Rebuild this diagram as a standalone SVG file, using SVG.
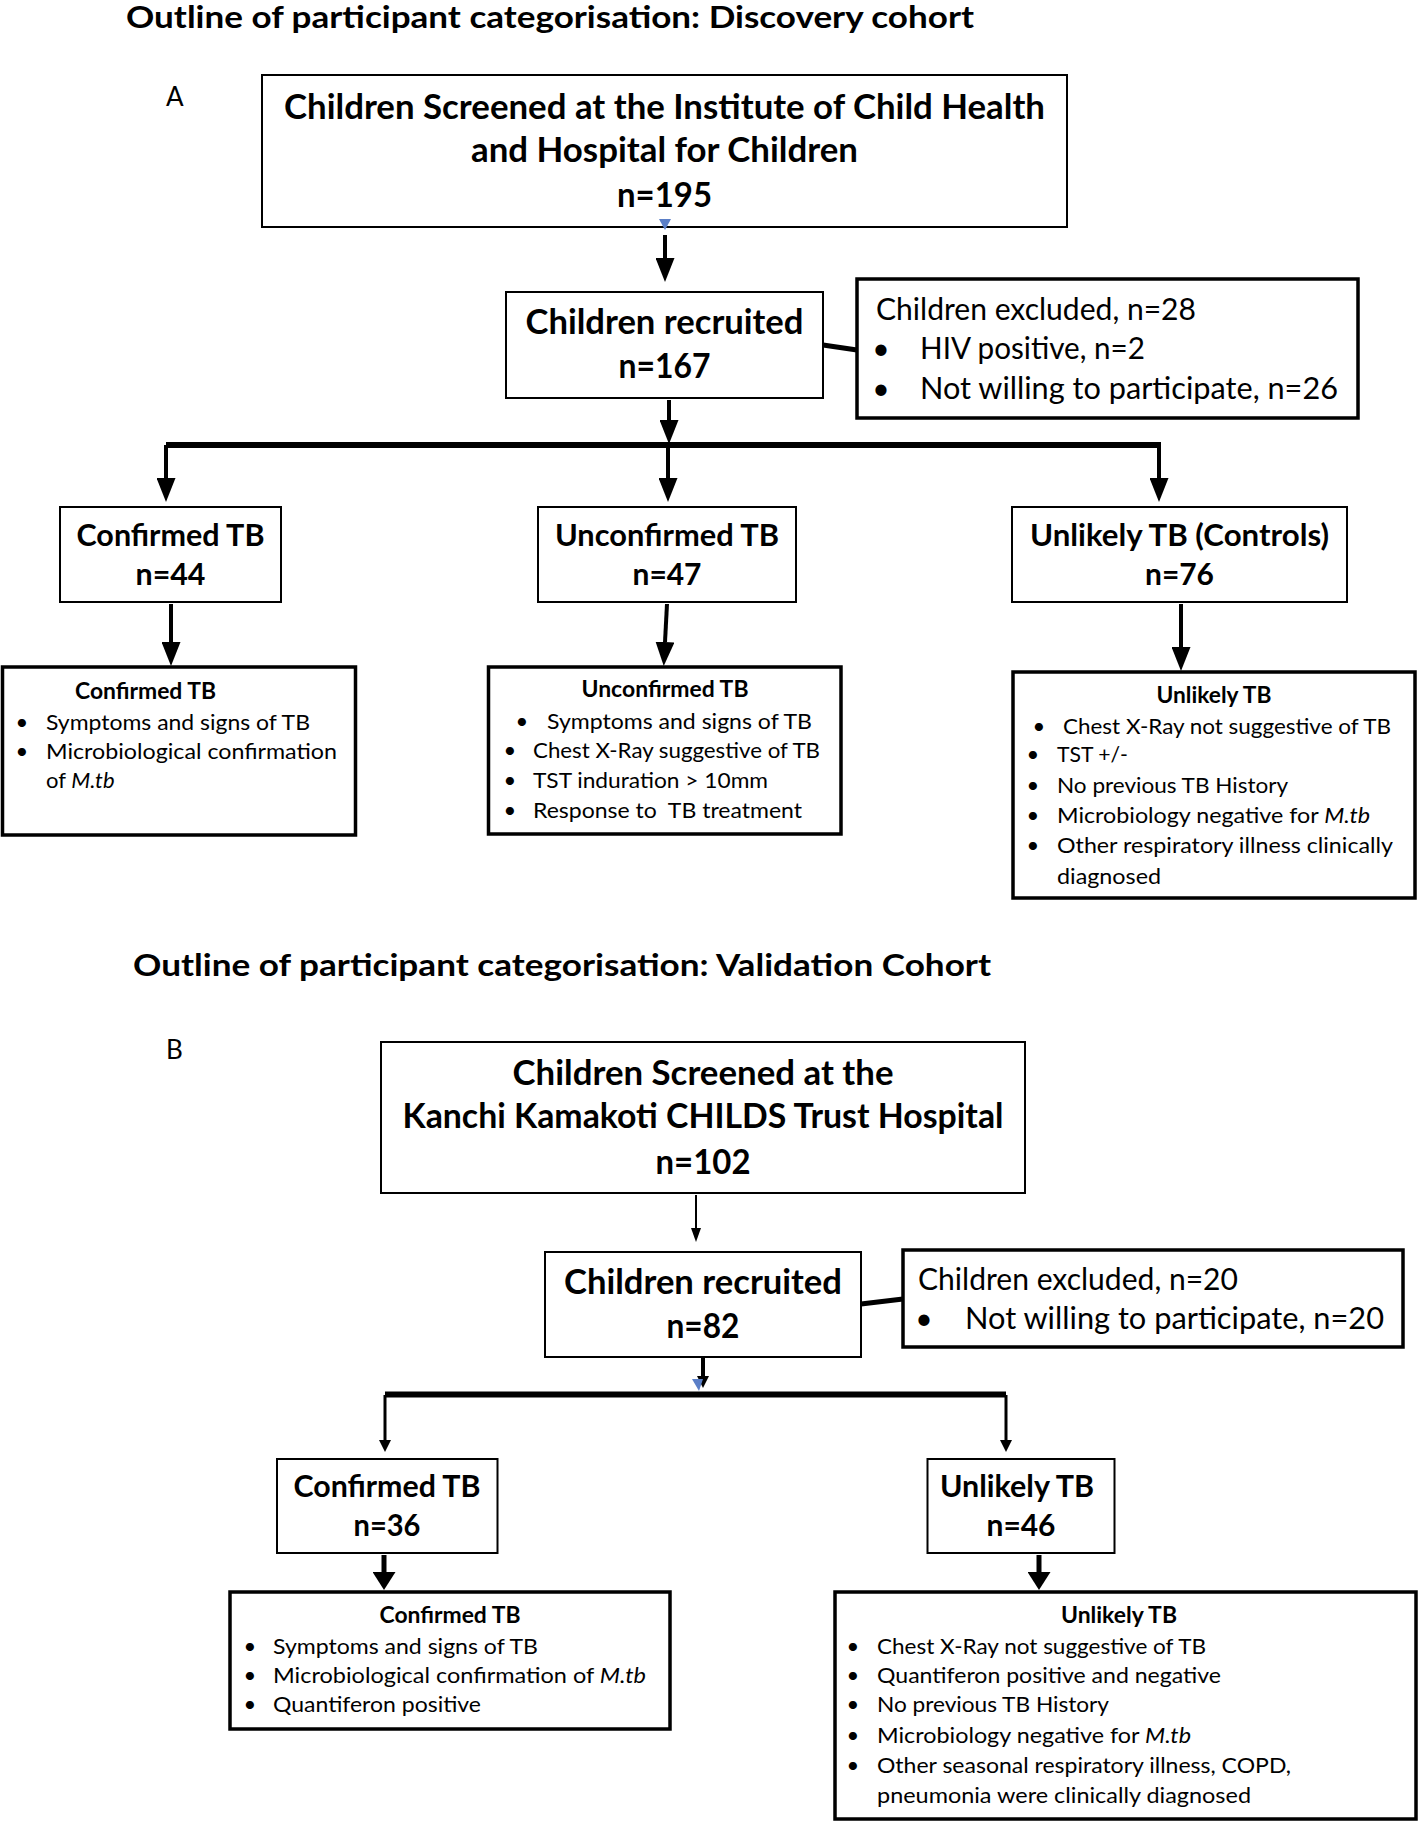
<svg xmlns="http://www.w3.org/2000/svg" width="1418" height="1823" viewBox="0 0 1418 1823">
<style>
text{font-family:Lato,"Liberation Sans",sans-serif;fill:#000}
.ttl{font-size:30px;font-weight:bold}
.lbl{font-size:26px}
.h{font-size:34px;font-weight:bold;text-anchor:middle}
.r{font-size:31px;font-weight:bold;text-anchor:middle}
.e{font-size:30px}
.dt{font-size:22px;font-weight:bold;text-anchor:middle}
.d{font-size:22px}
.b{text-anchor:middle}
.box{fill:#fff;stroke:#000;stroke-width:2}
.boxt{fill:#fff;stroke:#000;stroke-width:3.5}
.c{fill:none;stroke:#000;stroke-width:4}
.bar{fill:none;stroke:#000;stroke-width:6}
.blue{fill:#5b7fc7}
</style>
<defs>
<marker id="mA" markerUnits="userSpaceOnUse" markerWidth="24" markerHeight="19" refX="0" refY="9.5" orient="auto"><path d="M0,0 L24,9.5 L0,19 z" fill="#000"/></marker>
<marker id="mB" markerUnits="userSpaceOnUse" markerWidth="12" markerHeight="12" refX="0" refY="6" orient="auto"><path d="M0,0 L12,6 L0,12 z" fill="#000"/></marker>
<marker id="mC" markerUnits="userSpaceOnUse" markerWidth="18" markerHeight="23" refX="0" refY="11.5" orient="auto"><path d="M0,0 L18,11.5 L0,23 z" fill="#000"/></marker>
<marker id="mT" markerUnits="userSpaceOnUse" markerWidth="14" markerHeight="10" refX="0" refY="5" orient="auto"><path d="M0,0 L14,5 L0,10 z" fill="#000"/></marker>
</defs>
<rect width="1418" height="1823" fill="#fff"/>

<text class="ttl" x="126" y="28" textLength="848" lengthAdjust="spacingAndGlyphs">Outline of participant categorisation: Discovery cohort</text>
<text class="lbl" x="166" y="106">A</text>
<text class="ttl" x="133" y="976" textLength="858" lengthAdjust="spacingAndGlyphs">Outline of participant categorisation: Validation Cohort</text>
<text class="lbl" x="166" y="1059">B</text>

<g id="connectors">
<path class="c" d="M665,235 V258" marker-end="url(#mA)"/>
<path class="c" d="M669,400 V420" marker-end="url(#mA)"/>
<path class="bar" d="M166,445 H1161"/>
<path class="c" d="M166,445 V478" marker-end="url(#mA)"/>
<path class="c" d="M668,445 V478" marker-end="url(#mA)"/>
<path class="c" d="M1159,445 V478" marker-end="url(#mA)"/>
<path class="c" d="M171,604 V642" marker-end="url(#mA)"/>
<path class="c" d="M667,604 L665,642" marker-end="url(#mA)"/>
<path class="c" d="M1181,604 V647" marker-end="url(#mA)"/>
<path fill="none" stroke="#000" stroke-width="5" d="M823,345 L857,350"/>
<path fill="none" stroke="#000" stroke-width="2" d="M696,1195 V1228" marker-end="url(#mT)"/>
<path class="c" d="M703,1358 V1376" marker-end="url(#mB)"/>
<path class="bar" d="M385,1394.5 H1006"/>
<path fill="none" stroke="#000" stroke-width="3" d="M385,1395 V1440" marker-end="url(#mB)"/>
<path fill="none" stroke="#000" stroke-width="3" d="M1006,1395 V1440" marker-end="url(#mB)"/>
<path fill="none" stroke="#000" stroke-width="5" d="M384,1555 V1572" marker-end="url(#mC)"/>
<path fill="none" stroke="#000" stroke-width="5" d="M1039,1555 V1572" marker-end="url(#mC)"/>
<path fill="none" stroke="#000" stroke-width="5" d="M861,1304 L903,1299"/>
</g>

<g id="screenA">
<rect class="box" x="262" y="75" width="805" height="152"/>
<text class="h" x="664.5" y="119" textLength="761" lengthAdjust="spacingAndGlyphs">Children Screened at the Institute of Child Health</text>
<text class="h" x="664.5" y="162" textLength="387" lengthAdjust="spacingAndGlyphs">and Hospital for Children</text>
<text class="h" x="664.5" y="207" textLength="95" lengthAdjust="spacingAndGlyphs">n=195</text>
<polygon class="blue" points="659,219 671,219 665,230"/>
</g>

<g id="recruitedA">
<rect class="box" x="506" y="292" width="317" height="106"/>
<text class="h" x="664.5" y="334" textLength="278" lengthAdjust="spacingAndGlyphs">Children recruited</text>
<text class="h" x="664.5" y="378" textLength="92" lengthAdjust="spacingAndGlyphs">n=167</text>
</g>

<g id="excludedA">
<rect class="boxt" x="857" y="279" width="501" height="139"/>
<text class="e" x="876" y="320" textLength="320" lengthAdjust="spacingAndGlyphs">Children excluded, n=28</text>
<text class="e b" x="881" y="359">•</text>
<text class="e" x="920" y="359" textLength="225" lengthAdjust="spacingAndGlyphs">HIV positive, n=2</text>
<text class="e b" x="881" y="399">•</text>
<text class="e" x="920" y="399" textLength="418" lengthAdjust="spacingAndGlyphs">Not willing to participate, n=26</text>
</g>

<g id="confirmedA">
<rect class="box" x="60" y="507" width="221" height="95"/>
<text class="r" x="170.5" y="546" textLength="188" lengthAdjust="spacingAndGlyphs">Confirmed TB</text>
<text class="r" x="170.5" y="585" textLength="70" lengthAdjust="spacingAndGlyphs">n=44</text>
</g>

<g id="unconfirmedA">
<rect class="box" x="538" y="507" width="258" height="95"/>
<text class="r" x="667" y="546" textLength="224" lengthAdjust="spacingAndGlyphs">Unconfirmed TB</text>
<text class="r" x="667" y="585" textLength="69" lengthAdjust="spacingAndGlyphs">n=47</text>
</g>

<g id="unlikelyA">
<rect class="box" x="1012" y="507" width="335" height="95"/>
<text class="r" x="1179.5" y="546" textLength="299" lengthAdjust="spacingAndGlyphs">Unlikely TB (Controls)</text>
<text class="r" x="1179.5" y="585" textLength="69" lengthAdjust="spacingAndGlyphs">n=76</text>
</g>

<g id="confirmedA-detail">
<rect class="boxt" x="2.5" y="667" width="353" height="168"/>
<text class="dt" x="145.5" y="699" textLength="141" lengthAdjust="spacingAndGlyphs">Confirmed TB</text>
<text class="d b" x="22" y="730">•</text>
<text class="d" x="46" y="730" textLength="264" lengthAdjust="spacingAndGlyphs">Symptoms and signs of TB</text>
<text class="d b" x="22" y="759">•</text>
<text class="d" x="46" y="759" textLength="291" lengthAdjust="spacingAndGlyphs">Microbiological confirmation</text>
<text class="d" x="46" y="788">of <tspan font-style="italic">M.tb</tspan></text>
</g>

<g id="unconfirmedA-detail">
<rect class="boxt" x="488.5" y="667" width="352.5" height="167"/>
<text class="dt" x="665" y="697" textLength="167" lengthAdjust="spacingAndGlyphs">Unconfirmed TB</text>
<text class="d b" x="522" y="729">•</text>
<text class="d" x="547" y="729" textLength="265" lengthAdjust="spacingAndGlyphs">Symptoms and signs of TB</text>
<text class="d b" x="510" y="758">•</text>
<text class="d" x="533" y="758" textLength="287" lengthAdjust="spacingAndGlyphs">Chest X-Ray suggestive of TB</text>
<text class="d b" x="510" y="788">•</text>
<text class="d" x="533" y="788" textLength="235" lengthAdjust="spacingAndGlyphs">TST induration &gt; 10mm</text>
<text class="d b" x="510" y="818">•</text>
<text class="d" x="533" y="818" textLength="269" lengthAdjust="spacingAndGlyphs">Response to&#160; TB treatment</text>
</g>

<g id="unlikelyA-detail">
<rect class="boxt" x="1013" y="672" width="402" height="226"/>
<text class="dt" x="1214" y="703" textLength="115" lengthAdjust="spacingAndGlyphs">Unlikely TB</text>
<text class="d b" x="1039" y="734">•</text>
<text class="d" x="1063" y="734" textLength="328" lengthAdjust="spacingAndGlyphs">Chest X-Ray not suggestive of TB</text>
<text class="d b" x="1033" y="762">•</text>
<text class="d" x="1057" y="762" textLength="71" lengthAdjust="spacingAndGlyphs">TST +/-</text>
<text class="d b" x="1033" y="793">•</text>
<text class="d" x="1057" y="793" textLength="231" lengthAdjust="spacingAndGlyphs">No previous TB History</text>
<text class="d b" x="1033" y="823">•</text>
<text class="d" x="1057" y="823" textLength="313" lengthAdjust="spacingAndGlyphs">Microbiology negative for <tspan font-style="italic">M.tb</tspan></text>
<text class="d b" x="1033" y="853">•</text>
<text class="d" x="1057" y="853" textLength="336" lengthAdjust="spacingAndGlyphs">Other respiratory illness clinically</text>
<text class="d" x="1057" y="884" textLength="104" lengthAdjust="spacingAndGlyphs">diagnosed</text>
</g>

<g id="screenB">
<rect class="box" x="381" y="1042" width="644" height="151"/>
<text class="h" x="703" y="1085" textLength="381" lengthAdjust="spacingAndGlyphs">Children Screened at the</text>
<text class="h" x="703" y="1128" textLength="601" lengthAdjust="spacingAndGlyphs">Kanchi Kamakoti CHILDS Trust Hospital</text>
<text class="h" x="703" y="1174" textLength="95" lengthAdjust="spacingAndGlyphs">n=102</text>
</g>

<g id="recruitedB">
<rect class="box" x="545" y="1252" width="316" height="105"/>
<text class="h" x="703" y="1294" textLength="278" lengthAdjust="spacingAndGlyphs">Children recruited</text>
<text class="h" x="703" y="1338" textLength="73" lengthAdjust="spacingAndGlyphs">n=82</text>
<polygon class="blue" points="692,1379 703,1379 699,1391"/>
</g>

<g id="excludedB">
<rect class="boxt" x="903" y="1250" width="500" height="97"/>
<text class="e" x="918" y="1290" textLength="320" lengthAdjust="spacingAndGlyphs">Children excluded, n=20</text>
<text class="e b" x="924" y="1329">•</text>
<text class="e" x="965" y="1329" textLength="419" lengthAdjust="spacingAndGlyphs">Not willing to participate, n=20</text>
</g>

<g id="confirmedB">
<rect class="box" x="277" y="1459" width="220.5" height="94"/>
<text class="r" x="387" y="1497" textLength="187" lengthAdjust="spacingAndGlyphs">Confirmed TB</text>
<text class="r" x="387" y="1536" textLength="67" lengthAdjust="spacingAndGlyphs">n=36</text>
</g>

<g id="unlikelyB">
<rect class="box" x="927.5" y="1459" width="187" height="94"/>
<text class="r" x="1017" y="1497" textLength="154" lengthAdjust="spacingAndGlyphs">Unlikely TB</text>
<text class="r" x="1021" y="1536" textLength="69" lengthAdjust="spacingAndGlyphs">n=46</text>
</g>

<g id="confirmedB-detail">
<rect class="boxt" x="230" y="1592" width="440" height="137"/>
<text class="dt" x="450" y="1623" textLength="141" lengthAdjust="spacingAndGlyphs">Confirmed TB</text>
<text class="d b" x="250" y="1654">•</text>
<text class="d" x="273" y="1654" textLength="265" lengthAdjust="spacingAndGlyphs">Symptoms and signs of TB</text>
<text class="d b" x="250" y="1683">•</text>
<text class="d" x="273" y="1683" textLength="373" lengthAdjust="spacingAndGlyphs">Microbiological confirmation of <tspan font-style="italic">M.tb</tspan></text>
<text class="d b" x="250" y="1712">•</text>
<text class="d" x="273" y="1712" textLength="208" lengthAdjust="spacingAndGlyphs">Quantiferon positive</text>
</g>

<g id="unlikelyB-detail">
<rect class="boxt" x="835" y="1592" width="581" height="227"/>
<text class="dt" x="1119" y="1623" textLength="116" lengthAdjust="spacingAndGlyphs">Unlikely TB</text>
<text class="d b" x="853" y="1654">•</text>
<text class="d" x="877" y="1654" textLength="329" lengthAdjust="spacingAndGlyphs">Chest X-Ray not suggestive of TB</text>
<text class="d b" x="853" y="1683">•</text>
<text class="d" x="877" y="1683" textLength="344" lengthAdjust="spacingAndGlyphs">Quantiferon positive and negative</text>
<text class="d b" x="853" y="1712">•</text>
<text class="d" x="877" y="1712" textLength="232" lengthAdjust="spacingAndGlyphs">No previous TB History</text>
<text class="d b" x="853" y="1743">•</text>
<text class="d" x="877" y="1743" textLength="314" lengthAdjust="spacingAndGlyphs">Microbiology negative for <tspan font-style="italic">M.tb</tspan></text>
<text class="d b" x="853" y="1773">•</text>
<text class="d" x="877" y="1773" textLength="414" lengthAdjust="spacingAndGlyphs">Other seasonal respiratory illness, COPD,</text>
<text class="d" x="877" y="1803" textLength="374" lengthAdjust="spacingAndGlyphs">pneumonia were clinically diagnosed</text>
</g>
</svg>
